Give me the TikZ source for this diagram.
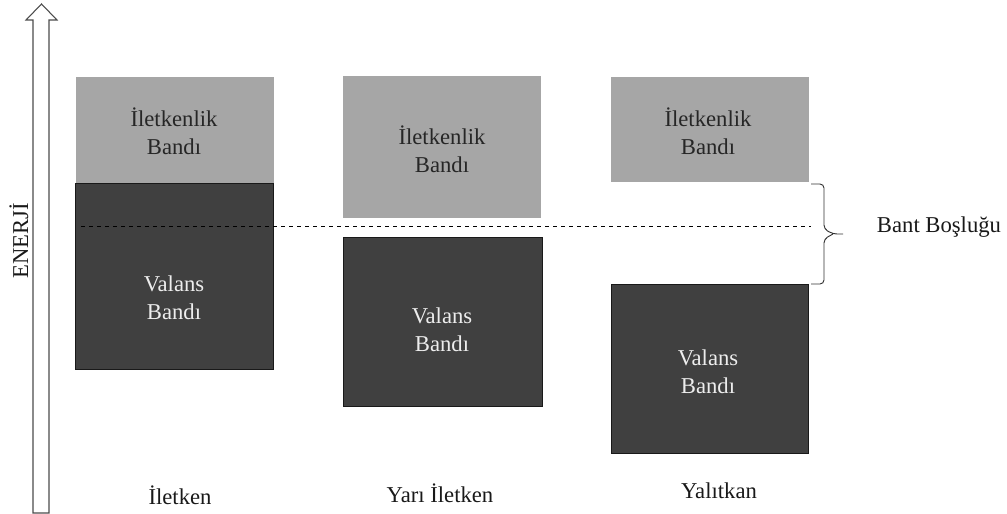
\documentclass[tikz,border=0pt]{standalone}
\usepackage{fontspec}
\setmainfont{Liberation Serif}
\usetikzlibrary{positioning}

\tikzset{
    iletband/.style={fill=black!35},
    valband/.style={fill=black!75, draw=black!90, line width=0.6pt},
    bandtext/.style={align=center, font=\fontsize{17}{21}\selectfont},
    iyazi/.style={bandtext, text=black!85},
    vyazi/.style={bandtext, text=black!7},
    altyazi/.style={font=\fontsize{17}{21}\selectfont, text=black!90}
}

\begin{document}
\begin{tikzpicture}[x=0.75pt,y=-0.75pt]
    \useasboundingbox (0,0) rectangle (1007,514);

    % enerji okunun gövdesi
    \draw[black!70, fill=white, line width=0.8pt]
        (33,513) -- (33,20) -- (26,20) -- (41.5,4) -- (57,20) -- (49,20) -- (49,513) -- cycle;
    \node[altyazi, rotate=90] (enerji) at (19,241) {ENERJİ};

    % iletken
    \fill[iletband] (76,77) rectangle (274,183);
    \node[iyazi] (ib1) at (174,131) {İletkenlik\\Bandı};
    \draw[valband] (75,183) rectangle (273,369);
    \node[vyazi] (vb1) at (174,298) {Valans\\Bandı};
    \node[altyazi] (t1) at (180,495) {İletken};

    % yari iletken
    \fill[iletband] (343,76) rectangle (541,218);
    \node[iyazi] (ib2) at (442,149) {İletkenlik\\Bandı};
    \draw[valband] (343,237) rectangle (542,406);
    \node[vyazi] (vb2) at (442,330) {Valans\\Bandı};
    \node[altyazi] (t2) at (440,493) {Yarı İletken};

    % yalitkan
    \fill[iletband] (611,77) rectangle (809,182);
    \node[iyazi] (ib3) at (708,131) {İletkenlik\\Bandı};
    \draw[valband] (611,284) rectangle (808,453);
    \node[vyazi] (vb3) at (708,372) {Valans\\Bandı};
    \node[altyazi] (t3) at (719,491) {Yalıtkan};

    % fermi seviyesi ve bant boslugu
    \draw[dashed, black, line width=0.6pt] (81,226) -- (811,226);
    \coordinate (bustu) at (811,184);
    \coordinate (balti) at (811,284);
    \coordinate (ucu) at (843,234);
    \draw[black!80, line width=0.7pt, rounded corners=3pt]
        (bustu) -- (824,184) -- (824,229) -- (833,234) -- (ucu)
        (833,234) -- (824,239) -- (824,284) -- (balti);
    \node[altyazi] (bosluk) at (939,227) {Bant Boşluğu};
\end{tikzpicture}
\end{document}
